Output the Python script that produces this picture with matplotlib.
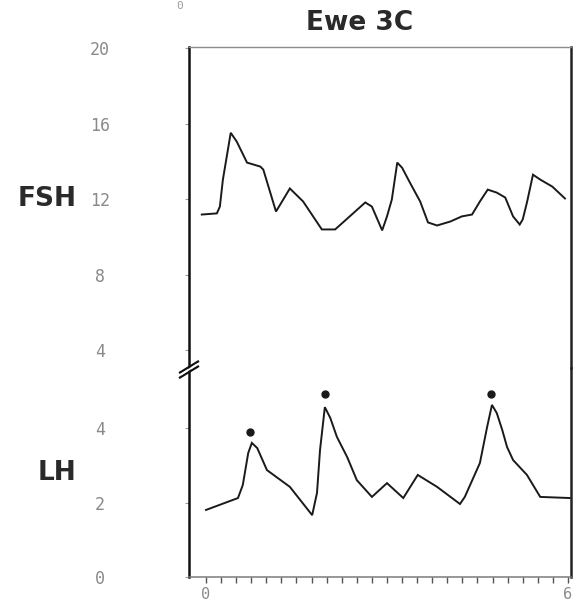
import matplotlib
matplotlib.use("Agg")
import matplotlib.pyplot as plt
from matplotlib.lines import Line2D

# ---- data ----
fsh_time = [-0.07, 0.18, 0.23, 0.28, 0.41, 0.51, 0.68, 0.90, 0.95, 1.16, 1.21, 1.39, 1.61,
            1.92, 2.14, 2.27, 2.64, 2.75, 2.92, 3.00, 3.08, 3.17, 3.25, 3.38, 3.55, 3.68,
            3.83, 4.05, 4.24, 4.41, 4.54, 4.67, 4.82, 4.96, 5.09, 5.20, 5.25, 5.32, 5.42,
            5.54, 5.74, 5.95]
fsh_value = [11.18, 11.24, 11.6, 13.03, 15.51, 15.04, 13.93, 13.72, 13.56, 11.34, 11.6, 12.56,
             11.87, 10.39, 10.39, 10.76, 11.82, 11.6, 10.34, 11.08, 11.97, 13.93, 13.66, 12.87,
             11.87, 10.76, 10.6, 10.81, 11.08, 11.18, 11.87, 12.5, 12.34, 12.08, 11.08, 10.65,
             10.92, 11.82, 13.29, 13.03, 12.66, 12.03]

lh_time = [0.0, 0.53, 0.61, 0.70, 0.76, 0.85, 1.01, 1.39, 1.76, 1.84, 1.89, 1.97, 2.06, 2.17,
           2.34, 2.50, 2.75, 3.00, 3.27, 3.51, 3.83, 4.21, 4.29, 4.54, 4.66, 4.74, 4.82, 4.91,
           4.99, 5.09, 5.32, 5.54, 6.03]
lh_value = [1.80, 2.12, 2.47, 3.33, 3.60, 3.46, 2.87, 2.42, 1.66, 2.26, 3.41, 4.56, 4.27, 3.76,
            3.22, 2.60, 2.15, 2.52, 2.12, 2.74, 2.42, 1.96, 2.15, 3.06, 4.03, 4.62, 4.40, 3.95,
            3.49, 3.14, 2.74, 2.15, 2.12]

pulse_time = [0.73, 1.97, 4.72]
pulse_marker_y = [3.89, 4.91, 4.91]

fsh_ticks = [4, 8, 12, 16, 20]
lh_ticks = [0, 2, 4]
x_ticks = [0, 6]
x_minor = [i * 0.25 for i in range(25)]

title = "Ewe 3C"

# ---- figure ----
W, H = 577, 607
fig = plt.figure(figsize=(W / 100, H / 100), dpi=100)
fig.patch.set_facecolor("white")

left_px, right_px = 189, 571
top_px, break_px, bottom_px = 47, 368, 577

def fx(px):
    return px / W

def fy(py):
    return 1 - py / H

ax_top = fig.add_axes([fx(left_px), fy(break_px), fx(right_px - left_px), (break_px - top_px) / H])
ax_bot = fig.add_axes([fx(left_px), fy(bottom_px), fx(right_px - left_px), (bottom_px - break_px) / H])

xlim = ((left_px - 206) / 60.33, (right_px - 206) / 60.33)
line_kw = dict(color="#1a1a1a", lw=1.4, solid_joinstyle="miter")

ax_top.plot(fsh_time, fsh_value, **line_kw)
ax_top.set_xlim(*xlim)
ax_top.set_ylim(20 - (break_px - top_px) / 18.94, 20 + 1 / 18.94)

ax_bot.plot(lh_time, lh_value, **line_kw)
ax_bot.plot(pulse_time, pulse_marker_y, linestyle="none", marker="o",
            markersize=5, color="#1a1a1a")
ax_bot.set_xlim(*xlim)
ax_bot.set_ylim(0, (bottom_px - break_px) / 37.25)

mono = "DejaVu Sans Mono"
tick_color = "#8a8a8a"

for ax in (ax_top, ax_bot):
    ax.set_facecolor("none")
    ax.spines["left"].set_linewidth(1.8)
    ax.spines["left"].set_color("#111111")
    ax.spines["right"].set_linewidth(1.8)
    ax.spines["right"].set_color("#222222")
    ax.tick_params(axis="y", direction="out", length=3, width=0.8, color="#999999",
                   labelsize=12, labelcolor=tick_color, pad=61)

ax_top.spines["bottom"].set_visible(False)
ax_top.spines["top"].set_color("#8c8c8c")
ax_top.spines["top"].set_linewidth(1.0)
ax_top.spines["top"].set_linestyle((0, (6, 1)))
ax_top.set_xticks([])
ax_top.set_yticks(fsh_ticks)
ax_top.set_yticklabels([str(t) for t in fsh_ticks], fontfamily=mono, ha="center")

ax_bot.spines["top"].set_visible(False)
ax_bot.spines["bottom"].set_color("#7a7a7a")
ax_bot.spines["bottom"].set_linewidth(1.1)
ax_bot.set_yticks(lh_ticks)
ax_bot.set_yticklabels([str(t) for t in lh_ticks], fontfamily=mono, ha="center")
ax_bot.set_xticks(x_ticks)
ax_bot.set_xticklabels([str(t) for t in x_ticks], fontfamily=mono)
ax_bot.set_xticks(x_minor, minor=True)
ax_bot.tick_params(axis="x", which="both", direction="out", length=4, width=1.0,
                   color="#555555", labelsize=11, labelcolor=tick_color, pad=3)

# axis break mark on the left spine
for dy in (-2.5, 2.5):
    fig.add_artist(Line2D([fx(180), fx(198)], [fy(375 + dy), fy(364 + dy)],
                          color="#111111", lw=1.6))
fig.add_artist(Line2D([fx(181), fx(197)], [fy(374.5), fy(364.5)], color="white", lw=1.2))

# labels
fig.text(fx(360), fy(23), title, ha="center", va="center", fontsize=19,
         fontweight="bold", color="#2a2a2a", fontfamily="DejaVu Sans")
fig.text(fx(47), fy(199), "FSH", ha="center", va="center", fontsize=19,
         fontweight="bold", color="#2a2a2a", fontfamily="DejaVu Sans")
fig.text(fx(57), fy(473), "LH", ha="center", va="center", fontsize=19,
         fontweight="bold", color="#2a2a2a", fontfamily="DejaVu Sans")

# fragment of a label from the page above
fig.text(fx(180), fy(6), "0", ha="center", va="center", fontsize=8,
         color="#9a9a9a", fontfamily=mono)

fig.savefig("out.png", dpi=100, facecolor="white")
